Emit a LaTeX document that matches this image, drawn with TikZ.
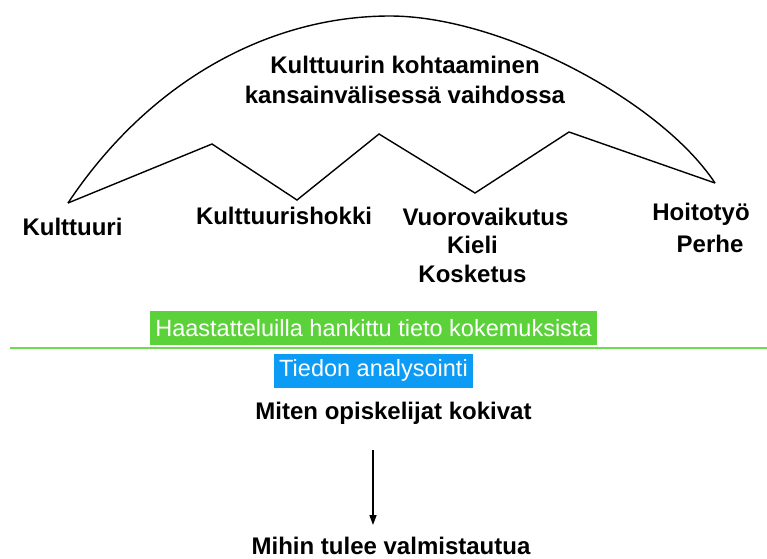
\documentclass[tikz,border=0pt]{standalone}
\usepackage{fontspec}
\setmainfont{Liberation Sans}
\usepackage{xcolor}
\usepackage{tikz}
\usetikzlibrary{arrows.meta}
\definecolor{boxGreen}{RGB}{92, 210, 58}
\definecolor{boxBlue}{RGB}{12, 156, 245}
\definecolor{lineGreen}{RGB}{110, 218, 80}
\tikzset{
    label_text/.style={
        anchor=base,
        inner sep=0pt,
        font=\fontsize{24}{28}\selectfont\bfseries
    },
    box_text/.style={
        inner xsep=5pt,
        inner ysep=0pt,
        minimum height=34pt,
        text=white,
        font=\fontsize{23.5}{28}\selectfont
    },
    box_green/.style={
        box_text,
        fill=boxGreen
    },
    box_blue/.style={
        box_text,
        fill=boxBlue
    },
    curve_line/.style={
        line width=1.4pt,
        line join=miter
    },
    flow_edge/.style={
        -{Triangle[length=10pt,width=7pt]},
        line width=1.5pt
    }
}

\begin{document}
\begin{tikzpicture}[x=1pt, y=-1pt]
        \useasboundingbox (0,0) rectangle (767,558);

        % the arch and its zigzag
        \coordinate (z0) at (68,203);
        \coordinate (z1) at (212,144);
        \coordinate (z2) at (297,200);
        \coordinate (z3) at (379,134);
        \coordinate (z4) at (475,193);
        \coordinate (z5) at (569,132);
        \coordinate (z6) at (715,183);
        \coordinate (top) at (390,16);

        \draw[curve_line] (z0) .. controls (150,80) and (270,16) .. (top)
            .. controls (500,16) and (660,100) .. (z6);
        \draw[curve_line] (z0) -- (z1) -- (z2) -- (z3) -- (z4) -- (z5) -- (z6);

        \node[label_text] (title1) at (405,73) {Kulttuurin kohtaaminen};
        \node[label_text] (title2) at (405,103) {kansainvälisessä vaihdossa};

        \node[label_text] (kulttuuri) at (72.5,235) {Kulttuuri};
        \node[label_text] (shokki) at (284,224) {Kulttuurishokki};
        \node[label_text] (vuoro) at (485.5,225) {Vuorovaikutus};
        \node[label_text] (kieli) at (472.5,253) {Kieli};
        \node[label_text] (kosketus) at (472.5,282) {Kosketus};
        \node[label_text] (hoito) at (701,220) {Hoitotyö};
        \node[label_text] (perhe) at (710,252) {Perhe};

        % data and analysis
        \node[box_green] (haastattelu) at (373.5,328) {Haastatteluilla hankittu tieto kokemuksista};
        \coordinate (sepL) at (10,348);
        \coordinate (sepR) at (767,348);
        \draw[lineGreen, line width=2.5pt] (sepL) -- (sepR);
        \node[box_blue] (analyysi) at (373.5,370.5) {Tiedon analysointi};

        \node[label_text] (miten) at (393.5,419) {Miten opiskelijat kokivat};
        \node[label_text] (mihin) at (391,554) {Mihin tulee valmistautua};

        \coordinate (arr_top) at (373,450);
        \coordinate (arr_end) at (373,525);
        \draw[flow_edge] (arr_top) -- (arr_end);
    \end{tikzpicture}
\end{document}
